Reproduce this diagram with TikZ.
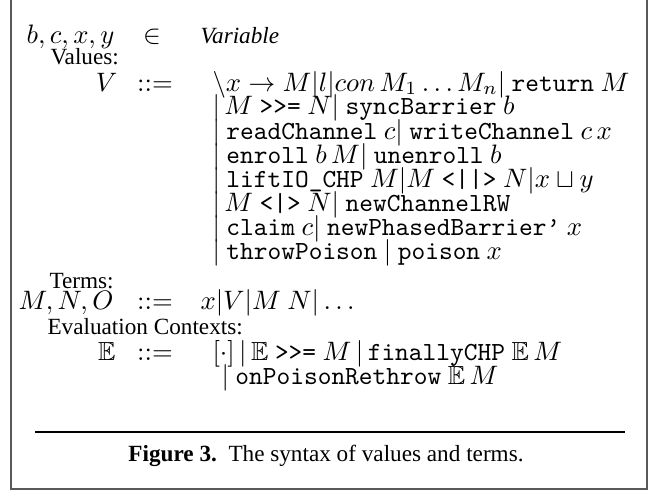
\documentclass[tikz,border=0pt]{standalone}
\usepackage{amssymb}
\usepackage[no-math]{fontspec}
\setmainfont{Liberation Serif}
\newcommand{\kw}[1]{\texttt{#1}}
\begin{document}
\begin{tikzpicture}[x=0.375pt, y=-0.375pt,
                    every node/.style={inner sep=0pt, text height=6pt, text depth=1.5pt,
                                       font=\fontsize{9.8}{10}\selectfont},
                    lhs/.style={anchor=base east},
                    rhs/.style={anchor=base west},
                    sym/.style={anchor=base},
                    hdr/.style={anchor=base west, font=\fontsize{8.7}{10}\selectfont}]
                    \useasboundingbox (0,0) rectangle (654,492);
                    \draw[gray!70!black, line width=0.7pt] (11,0) -- (11,489) -- (647,489) -- (647,0);

                    % variables
                    \node[lhs] (vars) at (115,44) {$b,c,x,y$};
                    \node[sym] (in) at (152,44) {$\in$};
                    \node[hdr] (var) at (200,44) {\textit{Variable}};

                    % values
                    \node[hdr] (values) at (50,65) {Values:};
                    \node[lhs] (V) at (118,91) {$V$};
                    \node[sym] (defV) at (155,91) {$::=$};
                    \node[rhs] (v1) at (212,91) {$\backslash x \rightarrow M|l|con\,M_1\ldots M_n|$ \kw{return} $M$};
                    \node[rhs] (v2) at (212,115) {$|\,M$ \kw{>>=} $N|$ \kw{syncBarrier} $b$};
                    \node[rhs] (v3) at (212,139) {$|$ \kw{readChannel} $c|$ \kw{writeChannel} $c\,x$};
                    \node[rhs] (v4) at (212,163) {$|$ \kw{enroll} $b\,M|$ \kw{unenroll} $b$};
                    \node[rhs] (v5) at (212,187) {$|$ \kw{liftIO\_CHP} $M|M$ \kw{<||>} $N|x\sqcup y$};
                    \node[rhs] (v6) at (212,211) {$|\,M$ \kw{<|>} $N|$ \kw{newChannelRW}};
                    \node[rhs] (v7) at (212,235) {$|$ \kw{claim} $c|$ \kw{newPhasedBarrier\textquoteright} $x$};
                    \node[rhs] (v8) at (212,259) {$|$ \kw{throwPoison} $|$ \kw{poison} $x$};

                    % terms
                    \node[hdr] (terms) at (49,288) {Terms:};
                    \node[lhs] (MNO) at (114,309) {$M,N,O$};
                    \node[sym] (defM) at (155,309) {$::=$};
                    \node[rhs] (t1) at (200,309) {$x|V|M\ N|\ldots$};

                    % evaluation contexts
                    \node[hdr] (ctx) at (47,334) {Evaluation Contexts:};
                    \node[lhs] (E) at (116,360) {$\mathbb{E}$};
                    \node[sym] (defE) at (155,360) {$::=$};
                    \node[rhs] (e1) at (212,360) {$[\cdot]\,|\,\mathbb{E}$ \kw{>>=} $M\,|\,$\kw{finallyCHP} $\mathbb{E}\,M$};
                    \node[rhs] (e2) at (221,384) {$|$ \kw{onPoisonRethrow} $\mathbb{E}\,M$};

                    \draw[line width=0.5pt] (35,432) -- (625,432);
                    \node[sym, font=\fontsize{8.7}{10}\selectfont] (cap) at (326,461) {\textbf{Figure 3.}\ \ The syntax of values and terms.};
                \end{tikzpicture}
\end{document}
